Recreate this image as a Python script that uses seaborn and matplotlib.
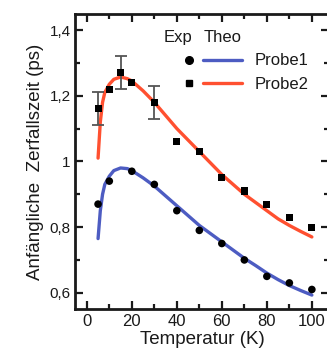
import matplotlib
matplotlib.use("Agg")
import matplotlib.pyplot as plt
import seaborn as sns
import pandas as pd
from matplotlib.lines import Line2D
from matplotlib.legend_handler import HandlerTuple
from matplotlib.ticker import MultipleLocator, FixedLocator, FixedFormatter

# experimental points
temp_p1 = [5, 10, 20, 30, 40, 50, 60, 70, 80, 90, 100]
exp_p1 = [0.87, 0.94, 0.97, 0.93, 0.85, 0.79, 0.75, 0.70, 0.65, 0.63, 0.61]
temp_p2 = [5, 10, 15, 20, 30, 40, 50, 60, 70, 80, 90, 100]
exp_p2 = [1.16, 1.22, 1.27, 1.24, 1.18, 1.06, 1.03, 0.95, 0.91, 0.87, 0.83, 0.80]

# error bars (only on a few Probe2 points)
err_temp = [5, 15, 30]
err_val = [1.16, 1.27, 1.18]
err_size = [0.05, 0.05, 0.05]

# theory curves
temp_theo = [5, 6, 7, 8, 10, 12, 15, 18, 20, 25, 30, 35, 40, 45, 50,
             55, 60, 65, 70, 75, 80, 85, 90, 95, 100]
theo_p1 = [0.765, 0.85, 0.90, 0.93, 0.955, 0.972, 0.98, 0.978, 0.972, 0.95,
           0.925, 0.895, 0.865, 0.835, 0.805, 0.78, 0.755, 0.73, 0.705,
           0.683, 0.66, 0.64, 0.622, 0.607, 0.593]
theo_p2 = [1.01, 1.12, 1.18, 1.21, 1.235, 1.25, 1.257, 1.252, 1.245, 1.215,
           1.18, 1.14, 1.10, 1.065, 1.03, 0.995, 0.96, 0.93, 0.90, 0.875,
           0.85, 0.825, 0.805, 0.787, 0.77]

ytick_vals = [0.6, 0.8, 1.0, 1.2, 1.4]
ytick_labels = ["0,6", "0,8", "1", "1,2", "1,4"]

blue = "#4d5cc2"
red = "#ff5030"
ink = "#1a1a1a"

sns.set_style("ticks")
plt.rcParams["font.family"] = ["Liberation Sans", "DejaVu Sans"]

fig = plt.figure(figsize=(3.27, 3.49), dpi=100)
ax = fig.add_axes([0.229, 0.115, 0.777, 0.845])

theo = pd.DataFrame({"T": temp_theo, "p1": theo_p1, "p2": theo_p2})
sns.lineplot(data=theo, x="T", y="p1", color=blue, lw=2.4, ax=ax)
sns.lineplot(data=theo, x="T", y="p2", color=red, lw=2.4, ax=ax)

ax.errorbar(err_temp, err_val, yerr=err_size, fmt="none", ecolor="#555555",
            elinewidth=1.3, capsize=4.5, capthick=1.3, zorder=3)
sns.scatterplot(x=temp_p1, y=exp_p1, marker="o", color="black", s=30,
                edgecolor="none", ax=ax, zorder=4)
sns.scatterplot(x=temp_p2, y=exp_p2, marker="s", color="black", s=26,
                edgecolor="none", ax=ax, zorder=4)

ax.set_xlim(-5.3, 107.6)
ax.set_ylim(0.551, 1.449)
ax.xaxis.set_major_locator(MultipleLocator(20))
ax.xaxis.set_minor_locator(MultipleLocator(10))
ax.yaxis.set_major_locator(FixedLocator(ytick_vals))
ax.yaxis.set_major_formatter(FixedFormatter(ytick_labels))
ax.yaxis.set_minor_locator(MultipleLocator(0.1))
ax.tick_params(which="both", direction="in", top=True, right=True,
               width=1.6, colors=ink, labelcolor=ink)
ax.tick_params(which="major", length=6)
ax.tick_params(which="minor", length=3.5)
ax.tick_params(axis="x", labelsize=12, pad=4)
ax.tick_params(axis="y", labelsize=11, pad=3)
for s in ax.spines.values():
    s.set_linewidth(2)
    s.set_color(ink)

ax.set_xlabel("Temperatur (K)", fontsize=13.5, labelpad=1, color=ink)
ax.set_ylabel("Anfängliche  Zerfallszeit (ps)", fontsize=13.5, labelpad=4,
              color=ink)

h1 = (Line2D([], [], ls="none", marker="o", color="black", ms=5.5),
      Line2D([], [], color=blue, lw=2.4))
h2 = (Line2D([], [], ls="none", marker="s", color="black", ms=5),
      Line2D([], [], color=red, lw=2.4))
ax.legend([h1, h2], ["Probe1", "Probe2"],
          handler_map={tuple: HandlerTuple(ndivide=None, pad=-0.33)},
          handlelength=4.34, handletextpad=0.75, labelspacing=0.5,
          fontsize=12, frameon=False, borderpad=0, borderaxespad=0,
          loc="upper left", bbox_to_anchor=(0.372, 0.866),
          labelcolor=ink)
ax.text(0.406, 0.919, "Exp", transform=ax.transAxes, ha="center",
        va="center", fontsize=12, color=ink)
ax.text(0.583, 0.919, "Theo", transform=ax.transAxes, ha="center",
        va="center", fontsize=12, color=ink)

fig.savefig("out.png", dpi=100)
